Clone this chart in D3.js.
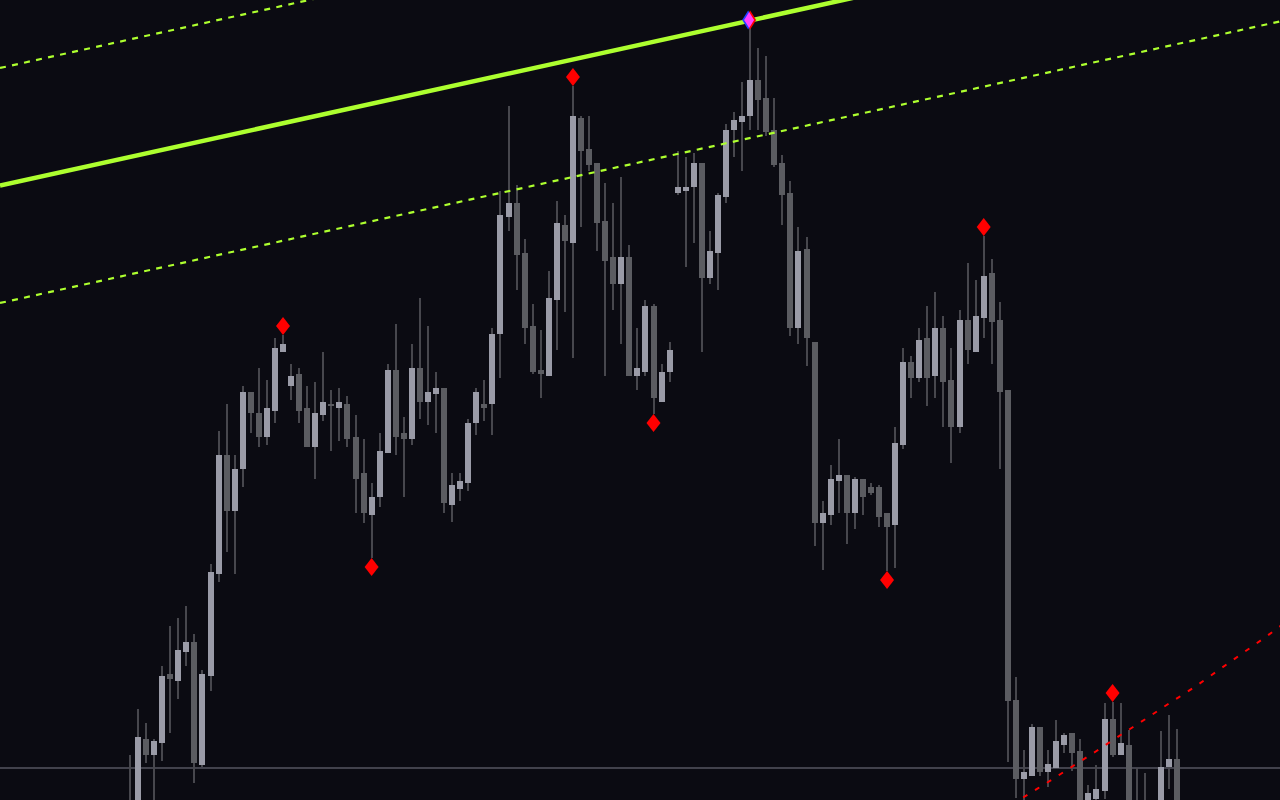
<!DOCTYPE html>
<html>
<head>
<meta charset="utf-8">
<script src="https://cdn.jsdelivr.net/npm/d3@7"></script>
<style>
html,body{margin:0;padding:0;background:#0b0b12;overflow:hidden}
svg{display:block}
</style>
</head>
<body>
<svg id="chart" width="1280" height="800"></svg>
<script>
// ---- data (price units) ----
const openP = [99.5,98.0,106.1,104.5,105.7,112.6,111.9,114.8,115.8,103.5,
112.4,122.6,134.5,128.9,133.1,140.8,138.7,136.3,138.9,144.8,
141.4,142.6,139.2,135.3,138.5,139.6,139.2,139.6,136.3,132.7,
128.5,130.3,134.7,143.0,136.7,136.1,143.2,139.8,140.6,141.2,
129.5,131.1,131.7,137.7,139.6,139.6,146.6,158.3,159.7,154.7,
147.4,143.0,142.4,150.0,157.5,155.7,168.2,165.1,163.7,157.9,
154.3,151.6,154.3,142.4,142.8,149.4,139.8,142.8,160.7,160.9,
161.3,163.7,152.2,154.7,160.3,167.0,167.8,168.4,172.0,170.2,
167.0,163.7,160.7,147.2,155.1,145.8,127.7,128.5,131.9,132.5,
128.7,132.1,131.3,131.3,128.7,127.5,135.5,143.8,142.2,146.2,
142.4,147.2,142.0,137.3,148.0,144.8,148.2,152.7,148.0,141.0,
110.0,102.1,102.4,107.3,102.8,103.2,105.5,106.7,104.9,99.0,
100.1,100.9,108.1,104.5,105.5,99.5,99.5,99.0,98.5,103.3,104.1];
const highP = [104.5,109.1,107.7,106.1,113.4,117.4,118.2,119.4,116.6,113.0,
123.6,136.9,139.6,134.5,141.4,140.8,143.2,142.0,146.2,146.5,
143.6,143.2,141.4,141.8,144.8,141.0,141.2,140.4,138.5,136.1,
131.7,136.7,143.6,147.6,138.3,145.6,150.2,147.4,142.8,141.2,
132.7,132.7,138.1,141.2,142.0,147.2,160.9,169.4,161.5,156.1,
149.6,147.0,152.9,159.9,158.5,171.4,168.4,168.4,163.7,161.7,
159.7,162.3,155.5,147.2,150.0,149.6,143.6,145.8,164.9,164.3,
164.7,163.7,156.9,160.7,167.6,168.8,171.8,177.2,175.2,174.4,
170.2,164.5,161.9,157.3,156.3,145.8,129.9,133.5,136.1,132.5,
132.3,132.1,131.7,131.5,128.7,137.3,145.2,144.4,147.2,149.4,
150.8,148.4,145.2,149.0,153.7,152.0,156.4,154.1,149.8,141.0,
112.3,105.0,107.6,107.3,105.0,108.0,106.7,106.7,106.1,101.5,
103.5,109.7,109.8,109.7,107.0,103.2,102.7,99.5,106.9,108.5,107.1];
const lowP = [97.0,97.0,103.7,99.0,103.9,106.7,110.1,113.4,101.7,103.3,
110.9,121.8,124.8,122.6,131.3,136.7,135.3,135.5,137.7,144.8,
140.0,137.7,135.3,132.1,137.9,134.9,135.9,135.3,128.7,127.7,
124.2,129.3,134.7,134.5,130.3,135.5,138.1,137.5,136.7,128.7,
127.8,129.9,130.9,136.5,137.9,136.5,142.2,156.9,151.0,145.6,
142.6,140.2,142.4,145.0,148.8,144.2,157.3,162.9,154.9,142.4,
149.0,145.6,142.4,141.0,142.4,138.6,139.8,141.8,160.5,153.3,
155.7,144.8,151.6,151.0,159.7,164.3,162.9,167.0,167.0,166.4,
163.3,157.5,146.4,145.6,143.4,125.4,123.0,127.5,128.7,125.6,
127.1,128.5,130.5,127.3,122.9,123.2,135.1,140.2,141.8,139.4,
140.2,137.3,133.7,136.7,143.6,144.8,146.2,143.6,133.1,103.8,
100.2,99.0,102.4,102.4,101.3,103.2,104.7,102.9,98.0,98.0,
99.5,100.1,104.3,104.5,98.0,97.0,97.0,97.0,97.5,101.1,97.0];
const closeP = [98.5,106.3,104.5,105.9,112.4,112.1,115.0,115.8,103.7,112.6,
122.8,134.5,128.9,133.1,140.8,138.7,136.3,139.2,145.2,145.6,
142.4,138.9,135.3,138.7,139.8,139.4,139.8,136.1,132.1,128.7,
130.3,134.9,143.0,136.3,136.1,143.2,139.8,140.8,141.2,129.7,
131.5,131.9,137.7,140.8,139.2,146.6,158.5,159.7,154.5,147.2,
142.8,142.6,150.2,157.7,155.9,168.4,164.9,163.5,157.7,153.9,
151.6,154.3,142.4,143.2,149.4,140.2,142.8,145.0,161.3,161.3,
163.7,152.2,154.9,160.5,167.0,168.0,168.4,172.0,170.0,166.8,
163.5,160.5,147.2,154.9,146.2,127.7,128.7,132.1,132.5,128.7,
132.1,130.3,130.7,128.3,127.3,135.7,143.8,142.2,146.0,142.2,
147.2,141.8,137.3,148.0,145.0,148.4,152.4,147.8,140.8,109.9,
102.1,102.8,107.3,102.8,103.6,105.9,106.5,104.7,99.0,100.7,
101.1,108.1,104.5,105.7,99.0,98.5,98.0,98.0,103.3,104.1,99.0];

// fractal markers (bar indices)
const fractalUpIdx = [19, 55, 106, 122];
const fractalDownIdx = [30, 65, 94];
const fractalPeakIdx = [77];

// regression channel: mid-line value at two bar indices, plus deviation
const channelIdx = [0, 130];
const channelMid = [164.31, 187.34];
const channelDev = 11.75;

// horizontal price level
const levelPrice = [103.2];

// red dotted projection curve
const curveIdx = [108, 111, 114, 117, 120, 123, 126, 129, 132, 135, 138, 141, 144];
const curveP = [98.7, 100.3, 101.8, 103.35, 104.9, 106.5, 108.05, 109.65, 111.2, 112.9, 114.6, 116.3, 118.1];

// ---- drawing ----
const W = 1280, H = 800;
const svg = d3.select('#chart');
svg.append('rect').attr('width', W).attr('height', H).attr('fill', '#0b0b12');

const x = d3.scaleLinear().domain([0, openP.length - 1]).range([130, 1177]);
const y = d3.scaleLinear().domain([100, 180]).range([H, 0]);

const bars = openP.map((o, i) => ({i, o, h: highP[i], l: lowP[i], c: closeP[i]}));

// level line
svg.append('g').selectAll('line').data(levelPrice).join('line')
  .attr('x1', 0).attr('x2', W)
  .attr('y1', d => Math.round(y(d))).attr('y2', d => Math.round(y(d)))
  .attr('stroke', '#42424c').attr('stroke-width', 2)
  .attr('shape-rendering', 'crispEdges');

// candles
const cg = svg.append('g').attr('shape-rendering', 'crispEdges');
cg.selectAll('rect.wick').data(bars).join('rect').attr('class', 'wick')
  .attr('x', d => Math.round(x(d.i)) - 1).attr('width', 2)
  .attr('y', d => y(d.h)).attr('height', d => Math.max(1, y(d.l) - y(d.h)))
  .attr('fill', '#47474d');
cg.selectAll('rect.body').data(bars).join('rect').attr('class', 'body')
  .attr('x', d => Math.round(x(d.i)) - 3).attr('width', 6)
  .attr('y', d => y(Math.max(d.o, d.c)))
  .attr('height', d => Math.max(2, Math.abs(y(d.o) - y(d.c))))
  .attr('fill', d => d.c >= d.o ? '#9a9ba7' : '#5b5c61');

// regression channel
const i0 = x.invert(0), i1 = x.invert(W);
const slope = (channelMid[1] - channelMid[0]) / (channelIdx[1] - channelIdx[0]);
const midAt = i => channelMid[0] + (i - channelIdx[0]) * slope;
const chan = [
  {off: channelDev, w: 2.2, dash: '6,6.3'},
  {off: -channelDev, w: 2.2, dash: '6,6.3'},
  {off: 0, w: 4.5, dash: null}
];
svg.append('g').selectAll('line').data(chan).join('line')
  .attr('x1', x(i0)).attr('x2', x(i1))
  .attr('y1', d => y(midAt(i0) + d.off)).attr('y2', d => y(midAt(i1) + d.off))
  .attr('stroke', '#adff2f').attr('stroke-width', d => d.w)
  .attr('stroke-dasharray', d => d.dash);

// red dotted curve
const curvePts = curveIdx.map((ix, k) => [x(ix), y(curveP[k])]);
svg.append('path').datum(curvePts)
  .attr('d', d3.line().curve(d3.curveMonotoneX))
  .attr('fill', 'none').attr('stroke', '#ff0000').attr('stroke-width', 2)
  .attr('stroke-dasharray', '5,9');

// fractal markers
const diamond = (cx, cy, hw, hh) => `M${cx},${cy - hh}L${cx + hw},${cy}L${cx},${cy + hh}L${cx - hw},${cy}Z`;
const mg = svg.append('g');
mg.selectAll('path.up').data(fractalUpIdx).join('path').attr('class', 'up')
  .attr('d', i => diamond(x(i), y(highP[i]) - 9, 7, 9)).attr('fill', '#ff0000');
mg.selectAll('path.dn').data(fractalDownIdx).join('path').attr('class', 'dn')
  .attr('d', i => diamond(x(i), y(lowP[i]) + 9, 7, 9)).attr('fill', '#ff0000');

// peak marker (blue + red overlapped -> magenta)
const pk = mg.selectAll('g.peak').data(fractalPeakIdx).join('g').attr('class', 'peak')
  .style('isolation', 'isolate');
pk.append('path').attr('d', i => diamond(x(i) - 2, y(highP[i]) - 8, 6, 9.5)).attr('fill', '#2040ff')
  .style('mix-blend-mode', 'screen');
pk.append('path').attr('d', i => diamond(x(i), y(highP[i]) - 8, 6, 9.5)).attr('fill', '#ff0000')
  .style('mix-blend-mode', 'screen');
</script>
</body>
</html>
